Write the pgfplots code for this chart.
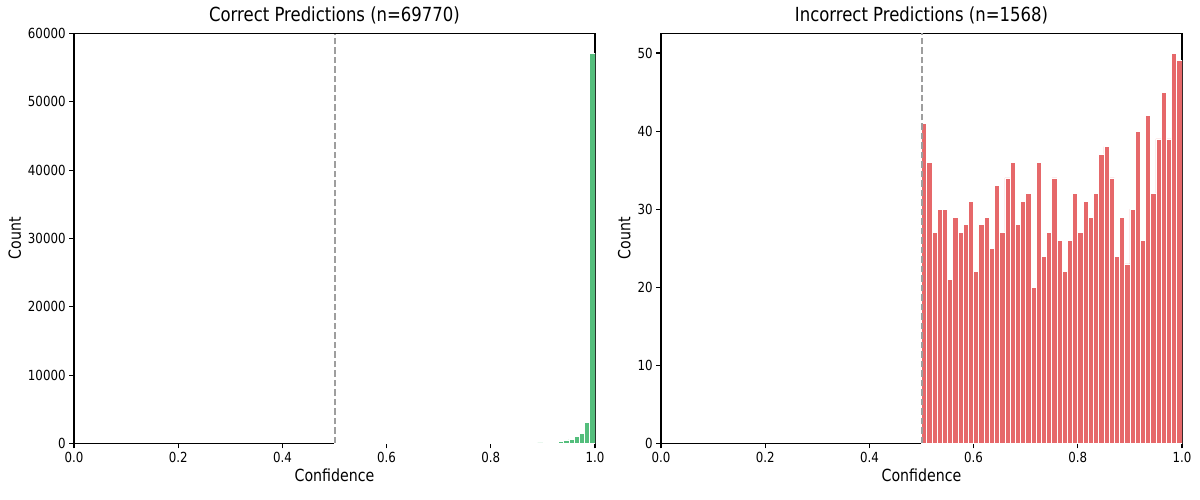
\documentclass[border=0pt]{standalone}
\usepackage{fontspec}
\setmainfont[FakeStretch=0.85]{DejaVu Sans}
\usepackage{pgfplots}
\pgfplotsset{compat=1.18}

\definecolor{okgreen}{RGB}{84,190,124}
\definecolor{badred}{RGB}{230,104,106}
\definecolor{refgray}{RGB}{158,158,158}

\pgfplotsset{
    histax/.style={
        scale only axis, width=521pt, height=410pt, anchor=south west,
        xmin=0, xmax=1, ymin=0,
        xtick={0,0.2,0.4,0.6,0.8,1},
        xticklabel style={/pgf/number format/.cd, fixed, fixed zerofill, precision=1},
        scaled y ticks=false,
        /pgf/number format/1000 sep={},
        /pgf/number format/assume math mode=true,
        tick align=outside, tick pos=left,
        major tick length=4.9pt,
        every tick/.style={black, line width=1.1pt},
        axis line style={line width=1.1pt},
        tick label style={font=\fontsize{13.9}{16}\selectfont},
        label style={font=\fontsize{16.7}{20}\selectfont},
        title style={font=\fontsize{19.4}{23}\selectfont},
        xlabel=Confidence, ylabel=Count,
    },
    histbar/.style={ybar interval, fill=#1, draw=white, line width=0.7pt},
    cutline/.style={refgray, dash pattern=on 6.5pt off 3pt, line width=2pt, forget plot},
}

\begin{document}
\begin{tikzpicture}
\useasboundingbox (0,0) rectangle (1200pt,500pt);

% correct predictions
\begin{axis}[histax, at={(74pt,56.5pt)}, ymax=60000,
    ytick={0,10000,20000,30000,40000,50000,60000},
    title={Correct Predictions (n=69770)}]
\addplot[histbar=okgreen] coordinates {
 (0.50,6) (0.51,5) (0.52,7) (0.53,8) (0.54,7) (0.55,9) (0.56,10) (0.57,9)
 (0.58,11) (0.59,12) (0.60,11) (0.61,13) (0.62,14) (0.63,13) (0.64,15)
 (0.65,16) (0.66,17) (0.67,18) (0.68,17) (0.69,20) (0.70,21) (0.71,22)
 (0.72,24) (0.73,23) (0.74,26) (0.75,27) (0.76,29) (0.77,30) (0.78,32)
 (0.79,34) (0.80,36) (0.81,38) (0.82,40) (0.83,43) (0.84,46) (0.85,50)
 (0.86,54) (0.87,60) (0.88,66) (0.89,80) (0.90,100) (0.91,150) (0.92,190)
 (0.93,290) (0.94,440) (0.95,630) (0.96,980) (0.97,1420) (0.98,3110)
 (0.99,57100) (1.00,57100)
};
\addplot[cutline] coordinates {(0.5,0) (0.5,60000)};
\end{axis}

% incorrect predictions
\begin{axis}[histax, at={(661pt,56.5pt)}, ymax=52.5,
    ytick={0,10,20,30,40,50},
    title={Incorrect Predictions (n=1568)}]
\addplot[histbar=badred] coordinates {
 (0.50,41) (0.51,36) (0.52,27) (0.53,30) (0.54,30) (0.55,21) (0.56,29)
 (0.57,27) (0.58,28) (0.59,31) (0.60,22) (0.61,28) (0.62,29) (0.63,25)
 (0.64,33) (0.65,27) (0.66,34) (0.67,36) (0.68,28) (0.69,31) (0.70,32)
 (0.71,20) (0.72,36) (0.73,24) (0.74,27) (0.75,34) (0.76,26) (0.77,22)
 (0.78,26) (0.79,32) (0.80,27) (0.81,31) (0.82,29) (0.83,32) (0.84,37)
 (0.85,38) (0.86,34) (0.87,24) (0.88,29) (0.89,23) (0.90,30) (0.91,40)
 (0.92,26) (0.93,42) (0.94,32) (0.95,39) (0.96,45) (0.97,39) (0.98,50)
 (0.99,49) (1.00,49)
};
\addplot[cutline] coordinates {(0.5,0) (0.5,52.5)};
\end{axis}
\end{tikzpicture}
\end{document}
